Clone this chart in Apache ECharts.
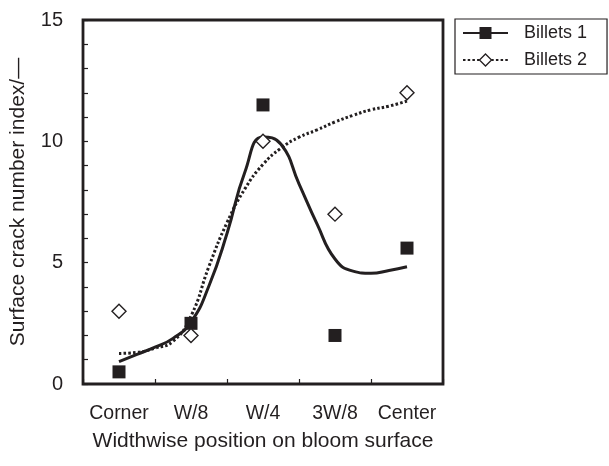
<!DOCTYPE html>
<html><head><meta charset="utf-8">
<script src="https://cdn.jsdelivr.net/npm/echarts@6/dist/echarts.min.js"></script>
<style>html,body{margin:0;padding:0;background:#fff}#c{width:609px;height:466px}</style>
</head><body><div id="c"></div>
<script>
const categories = ['Corner', 'W/8', 'W/4', '3W/8', 'Center'];
const billets1 = [0.5, 2.5, 11.5, 2.0, 5.6];
const billets2 = [3.0, 2.0, 10.0, 7.0, 12.0];
const fitX = [0, 0.25, 0.5, 0.75, 1, 1.25, 1.5, 1.75, 2, 2.25, 2.5, 2.75, 3, 3.25, 3.5, 3.75, 4];
const fit1Y = [0.92, 1.22, 1.52, 1.88, 2.55, 4.05, 6.2, 8.75, 10.18, 9.88, 8.25, 6.6, 5.15, 4.65, 4.56, 4.68, 4.83];
const fit2Y = [1.26, 1.3, 1.48, 1.76, 2.8, 4.85, 6.65, 8.05, 9.05, 9.72, 10.17, 10.47, 10.8, 11.07, 11.3, 11.45, 11.66];
const yLabels = [0, 5, 10, 15];

const INK = '#231f20';
const FONT = 'Liberation Sans, Arial, sans-serif';
const chart = echarts.init(document.getElementById('c'));
chart.setOption({
  animation: false,
  backgroundColor: '#fff',
  grid: { left: 78, right: 166, top: 20, bottom: 82, show: true, borderColor: INK, borderWidth: 2.8, backgroundColor: 'transparent' },
  legend: {
    orient: 'vertical', left: 455, top: 19,
    padding: [5, 20, 5, 7], itemGap: 9,
    itemWidth: 45, itemHeight: 15,
    borderColor: INK, borderWidth: 1.2,
    textStyle: { fontFamily: FONT, fontSize: 18, color: INK, padding: [0, 0, 0, 11] },
    data: [
      { name: 'Billets 1' },
      { name: 'Billets 2', itemStyle: { color: '#fff', borderColor: INK, borderWidth: 1.3 } }
    ]
  },
  xAxis: [
    {
      type: 'category', data: categories, boundaryGap: true,
      name: 'Widthwise position on bloom surface', nameLocation: 'middle', nameGap: 47,
      nameTextStyle: { fontFamily: FONT, fontSize: 21, color: INK },
      axisLine: { show: false },
      axisTick: { show: true, inside: true, length: 5, interval: 0, lineStyle: { color: INK, width: 1.2 } },
      axisLabel: { fontFamily: FONT, fontSize: 19.5, color: INK, margin: 20, interval: 0, hideOverlap: false },
      splitLine: { show: false }
    },
    { type: 'value', min: -0.5, max: 4.5, show: false, splitLine: { show: false } }
  ],
  yAxis: {
    type: 'value', min: 0, max: 15, interval: 1,
    name: 'Surface crack number index/\u2014', nameLocation: 'middle', nameGap: 54, nameRotate: 90,
    nameTextStyle: { fontFamily: FONT, fontSize: 21, color: INK },
    axisLine: { show: false, onZero: false },
    axisTick: { show: true, inside: true, length: 5, lineStyle: { color: INK, width: 1.2 } },
    axisLabel: { fontFamily: FONT, fontSize: 20, color: INK, margin: 20,
      formatter: v => (yLabels.indexOf(v) >= 0 ? String(v) : '') },
    splitLine: { show: false }
  },
  series: [
    {
      name: 'Billets 1', type: 'line', xAxisIndex: 1, smooth: 0.5,
      symbol: 'rect', showSymbol: false, symbolSize: 12,
      itemStyle: { color: INK },
      lineStyle: { color: INK, width: 3, type: 'solid' },
      data: fitX.map((x, i) => [x, fit1Y[i]]), z: 3
    },
    {
      name: 'Billets 2', type: 'line', xAxisIndex: 1, smooth: 0.5,
      symbol: 'diamond', showSymbol: false, symbolSize: 12,
      itemStyle: { color: '#fff', borderColor: INK, borderWidth: 1.3 },
      lineStyle: { color: INK, width: 3, type: [2.5, 2.2], cap: 'butt' },
      data: fitX.map((x, i) => [x, fit2Y[i]]), z: 3
    },
    {
      name: 'Billets 1', type: 'scatter', xAxisIndex: 1,
      symbol: 'rect', symbolSize: 13,
      itemStyle: { color: INK, opacity: 1 },
      data: billets1.map((v, i) => [i, v]), z: 4
    },
    {
      name: 'Billets 2', type: 'scatter', xAxisIndex: 1,
      symbol: 'diamond', symbolSize: 14,
      itemStyle: { color: '#fff', borderColor: INK, borderWidth: 1.4, opacity: 1 },
      data: billets2.map((v, i) => [i, v]), z: 4
    }
  ]
});
</script></body></html>
